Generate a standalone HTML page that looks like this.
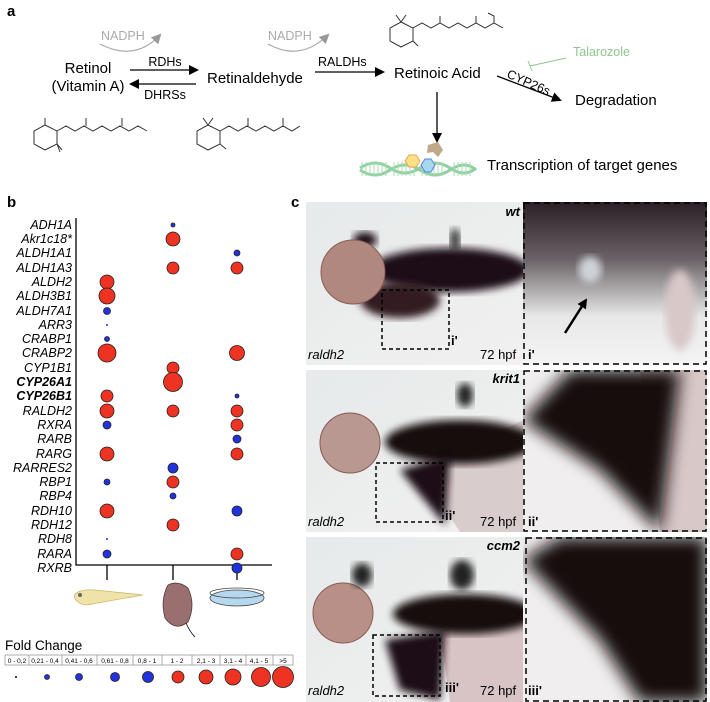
<!DOCTYPE html>
<html><head><meta charset="utf-8"><style>
html,body{margin:0;padding:0;background:#fff;}
svg{display:block;font-family:"Liberation Sans",sans-serif;}
.g{font-style:italic;font-size:12.5px;}
</style></head><body>
<svg width="710" height="702" viewBox="0 0 710 702" xmlns="http://www.w3.org/2000/svg">
<defs>
<marker id="ah" markerWidth="10" markerHeight="10" refX="8" refY="5" orient="auto" markerUnits="userSpaceOnUse"><path d="M0,0 L10,5 L0,10 z" fill="#000"/></marker>
<marker id="ahg" markerWidth="10" markerHeight="10" refX="8" refY="5" orient="auto" markerUnits="userSpaceOnUse"><path d="M0,0 L10,5 L0,10 z" fill="#999"/></marker>
<filter id="bl"><feGaussianBlur stdDeviation="4"/></filter>
<filter id="bl2"><feGaussianBlur stdDeviation="8"/></filter>
<linearGradient id="tg" x1="0" y1="0" x2="0" y2="1"><stop offset="0" stop-color="#2a2025"/><stop offset="0.35" stop-color="#6a6266"/><stop offset="0.7" stop-color="#e8e8e8"/><stop offset="1" stop-color="#f4f4f4"/></linearGradient>
<linearGradient id="bgc" x1="0" y1="0" x2="1" y2="1"><stop offset="0" stop-color="#e6eaea"/><stop offset="1" stop-color="#f2f0f0"/></linearGradient>
<clipPath id="c1"><rect x="306" y="202" width="217" height="163"/></clipPath>
<clipPath id="c2"><rect x="306" y="370" width="217" height="162"/></clipPath>
<clipPath id="c3"><rect x="306" y="537" width="217" height="165"/></clipPath>
<clipPath id="d1"><rect x="523" y="202" width="184" height="163"/></clipPath>
<clipPath id="d2"><rect x="523" y="370" width="184" height="162"/></clipPath>
<clipPath id="d3"><rect x="523" y="537" width="184" height="165"/></clipPath>
</defs>
<!-- panel a -->
<text x="7" y="16" font-weight="bold" font-size="15">a</text>
<text x="101" y="40" fill="#aaa" font-size="12.5">NADPH</text>
<path d="M100,44 Q135,62 160,35" fill="none" stroke="#aaa" stroke-width="1.2" marker-end="url(#ahg)"/>
<text x="268" y="40" fill="#aaa" font-size="12.5">NADPH</text>
<path d="M268,44 Q300,62 328,35" fill="none" stroke="#aaa" stroke-width="1.2" marker-end="url(#ahg)"/>
<text x="88" y="73" font-size="15" text-anchor="middle">Retinol</text>
<text x="88" y="91" font-size="15" text-anchor="middle">(Vitamin A)</text>
<text x="165" y="66" font-size="12.5" text-anchor="middle">RDHs</text>
<line x1="130" y1="70" x2="197" y2="70" stroke="#000" stroke-width="1.3" marker-end="url(#ah)"/>
<line x1="196" y1="84" x2="131" y2="84" stroke="#000" stroke-width="1.3" marker-end="url(#ah)"/>
<text x="165" y="99" font-size="12.5" text-anchor="middle">DHRSs</text>
<text x="207" y="83" font-size="15">Retinaldehyde</text>
<text x="318" y="66" font-size="12.5">RALDHs</text>
<line x1="315" y1="72" x2="383" y2="72" stroke="#000" stroke-width="1.3" marker-end="url(#ah)"/>
<text x="394" y="78" font-size="15">Retinoic Acid</text>
<text x="573" y="56" fill="#8fc58f" font-size="12.5">Talarozole</text>
<line x1="566" y1="58" x2="530" y2="66" stroke="#8fc58f" stroke-width="1"/>
<line x1="528" y1="61" x2="532" y2="71" stroke="#8fc58f" stroke-width="1"/>
<text x="506" y="77" font-size="12.5" transform="rotate(24 506 77)">CYP26s</text>
<line x1="497" y1="76" x2="560" y2="100" stroke="#000" stroke-width="1.3" marker-end="url(#ah)"/>
<text x="575" y="105" font-size="15">Degradation</text>
<line x1="437" y1="92" x2="437" y2="141" stroke="#000" stroke-width="1.3" marker-end="url(#ah)"/>
<text x="487" y="170" font-size="15">Transcription of target genes</text>
<g stroke="#8fd0a0" stroke-width="3" fill="none">
<path d="M360,168 Q375,158 390,168 T420,168 T450,168 T476,168"/>
<path d="M360,170 Q375,180 390,170 T420,170 T450,170 T476,170"/>
</g>
<g stroke="#a8dcb5" stroke-width="1"><path d="M362,162v14M366,162v14M370,162v14M374,162v14M378,162v14M382,162v14M386,162v14M394,162v14M398,162v14M402,162v14M406,162v14M410,162v14M414,162v14M422,162v14M426,162v14M430,162v14M434,162v14M438,162v14M442,162v14M454,162v14M458,162v14M462,162v14M466,162v14M470,162v14"/></g>
<polygon points="409,155 416,155 420,161 416,167 409,167 405,161" fill="#fbe08a" stroke="#f0a050"/>
<polygon points="425,159 431,159 435,165 431,172 425,172 421,165" fill="#a5d8ef" stroke="#5b7ee8"/>
<path d="M428,145 L438,142 L443,150 L438,157 L433,152 L427,153z" fill="#c0a888"/>
<g fill="none" stroke="#333" stroke-width="1">
<path d="M45,125 L57,131 L57,144 L45,150 L34,144 L34,131z M57,131 L66,126 L75,131 L84,126 L93,131 L102,126 L111,131 L120,126 L129,131 L138,126 L147,131 M86,126 L86,118 M122,126 L122,118 M45,125 L45,118 M57,144 L62,150 M57,144 L60,152"/>
<path d="M208,125 L220,131 L220,144 L208,150 L197,144 L197,131z M220,131 L229,126 L238,131 L247,126 L256,131 L265,126 L274,131 L283,126 L292,131 L300,126 M248,126 L248,118 M283,126 L283,118 M208,125 L203,118 M208,125 L213,118 M220,144 L226,149"/>
<path d="M401,22 L413,28 L413,41 L401,47 L390,41 L390,28z M413,28 L422,23 L431,28 L440,23 L449,28 L458,23 L467,28 L476,23 L485,28 L494,23 L503,28 M440,23 L440,16 M476,23 L476,16 M494,23 L494,16 L488,13 M401,22 L396,15 M401,22 L406,15 M413,41 L418,46"/>
</g>
<!-- panel b -->
<text x="7" y="207" font-weight="bold" font-size="15">b</text>
<g class="g" text-anchor="end">
<text x="72" y="229">ADH1A</text><text x="72" y="243">Akr1c18*</text><text x="72" y="257">ALDH1A1</text><text x="72" y="272">ALDH1A3</text>
<text x="72" y="286">ALDH2</text><text x="72" y="300">ALDH3B1</text><text x="72" y="315">ALDH7A1</text><text x="72" y="329">ARR3</text>
<text x="72" y="343">CRABP1</text><text x="72" y="357">CRABP2</text><text x="72" y="372">CYP1B1</text>
<text x="72" y="386" font-weight="bold">CYP26A1</text><text x="72" y="400" font-weight="bold">CYP26B1</text>
<text x="72" y="415">RALDH2</text><text x="72" y="429">RXRA</text><text x="72" y="443">RARB</text><text x="72" y="458">RARG</text>
<text x="72" y="472">RARRES2</text><text x="72" y="486">RBP1</text><text x="72" y="500">RBP4</text><text x="72" y="515">RDH10</text>
<text x="72" y="529">RDH12</text><text x="72" y="543">RDH8</text><text x="72" y="558">RARA</text><text x="72" y="572">RXRB</text>
</g>
<path d="M76,218 V565 H272 M107,565 V580 M173,565 V580 M237,565 V580" fill="none" stroke="#000" stroke-width="1.3"/>
<g stroke="#222" stroke-width="0.8">
<circle cx="173" cy="225" r="2" fill="#2233dd"/>
<circle cx="173" cy="239" r="7" fill="#ee3322"/>
<circle cx="237" cy="253" r="3" fill="#2233dd"/>
<circle cx="173" cy="268" r="6" fill="#ee3322"/><circle cx="237" cy="268" r="6" fill="#ee3322"/>
<circle cx="107" cy="282" r="7" fill="#ee3322"/>
<circle cx="107" cy="296" r="8" fill="#ee3322"/>
<circle cx="107" cy="311" r="3.5" fill="#2233dd"/>
<circle cx="107" cy="325" r="1" fill="#2233dd" stroke="none"/>
<circle cx="107" cy="339" r="2.5" fill="#2233dd"/>
<circle cx="107" cy="353" r="9" fill="#ee3322"/><circle cx="237" cy="353" r="7.5" fill="#ee3322"/>
<circle cx="173" cy="368" r="6" fill="#ee3322"/>
<circle cx="173" cy="382" r="9.5" fill="#ee3322"/>
<circle cx="107" cy="396" r="6" fill="#ee3322"/><circle cx="237" cy="396" r="2" fill="#2233dd"/>
<circle cx="107" cy="411" r="7" fill="#ee3322"/><circle cx="173" cy="411" r="6" fill="#ee3322"/><circle cx="237" cy="411" r="6" fill="#ee3322"/>
<circle cx="107" cy="425" r="4" fill="#2233dd"/><circle cx="237" cy="425" r="6" fill="#ee3322"/>
<circle cx="237" cy="439" r="4" fill="#2233dd"/>
<circle cx="107" cy="454" r="7" fill="#ee3322"/><circle cx="237" cy="454" r="6" fill="#ee3322"/>
<circle cx="173" cy="468" r="5" fill="#2233dd"/>
<circle cx="107" cy="482" r="3" fill="#2233dd"/><circle cx="173" cy="482" r="6" fill="#ee3322"/>
<circle cx="173" cy="496" r="3" fill="#2233dd"/>
<circle cx="107" cy="511" r="7" fill="#ee3322"/><circle cx="237" cy="511" r="5" fill="#2233dd"/>
<circle cx="173" cy="525" r="6" fill="#ee3322"/>
<circle cx="107" cy="539" r="1" fill="#2233dd" stroke="none"/>
<circle cx="107" cy="554" r="4" fill="#2233dd"/><circle cx="237" cy="554" r="6" fill="#ee3322"/>
<circle cx="237" cy="568" r="5" fill="#2233dd"/>
</g>
<path d="M78,592 Q72,595 76,600 Q82,607 92,604 L143,595 L95,590 Q85,589 78,592z" fill="#f0e3a8" stroke="#cbb870" stroke-width="0.8"/>
<circle cx="80" cy="595" r="2" fill="#666"/>
<path d="M168,585 Q160,600 165,618 Q175,632 188,622 Q196,605 188,588 Q178,580 168,585z" fill="#9a6f6f" stroke="#5a3a3a" stroke-width="0.8"/>
<path d="M186,623 Q190,632 195,637" fill="none" stroke="#000" stroke-width="0.8"/>
<ellipse cx="237" cy="598" rx="27" ry="8" fill="#b5d8ee" stroke="#444" stroke-width="0.8"/>
<ellipse cx="237" cy="593" rx="27" ry="5" fill="none" stroke="#444" stroke-width="0.8"/>
<text x="5" y="650" font-size="13.5">Fold Change</text>
<rect x="5" y="655" width="288" height="10" fill="#fff" stroke="#999" stroke-width="0.8"/>
<path d="M29,655v10M62,655v10M97,655v10M133,655v10M162,655v10M192,655v10M220,655v10M246,655v10M273,655v10" stroke="#999" stroke-width="0.8"/>
<g font-size="6.5" text-anchor="middle"><text x="17" y="663">0 - 0,2</text><text x="45" y="663">0,21 - 0,4</text><text x="79" y="663">0,41 - 0,6</text><text x="115" y="663">0,61 - 0,8</text><text x="147" y="663">0,8 - 1</text><text x="177" y="663">1 - 2</text><text x="206" y="663">2,1 - 3</text><text x="233" y="663">3,1 - 4</text><text x="259" y="663">4,1 - 5</text><text x="283" y="663">&gt;5</text></g>
<g stroke="#222" stroke-width="0.8">
<circle cx="16" cy="677" r="1" fill="#000" stroke="none"/>
<circle cx="47" cy="677" r="2.5" fill="#2233dd"/>
<circle cx="79" cy="677" r="3.5" fill="#2233dd"/>
<circle cx="115" cy="677" r="4.5" fill="#2233dd"/>
<circle cx="148" cy="677" r="5.5" fill="#2233dd"/>
<circle cx="178" cy="677" r="6" fill="#ee3322"/>
<circle cx="206" cy="677" r="7" fill="#ee3322"/>
<circle cx="233" cy="677" r="8" fill="#ee3322"/>
<circle cx="261" cy="677" r="9.5" fill="#ee3322"/>
<circle cx="283" cy="677" r="10.5" fill="#ee3322"/>
</g>
<!-- panel c -->
<text x="291" y="207" font-weight="bold" font-size="15">c</text>
<g clip-path="url(#c1)">
<rect x="306" y="202" width="217" height="163" fill="url(#bgc)"/>
<ellipse cx="450" cy="270" rx="80" ry="22" fill="#1a1015" filter="url(#bl)"/>
<ellipse cx="400" cy="300" rx="40" ry="18" fill="#301a22" filter="url(#bl)"/>
<ellipse cx="365" cy="240" rx="12" ry="8" fill="#1a1015" filter="url(#bl)"/>
<circle cx="353" cy="272" r="32" fill="#b08880" stroke="#8a5a55"/>
<ellipse cx="455" cy="240" rx="5" ry="12" fill="#333" filter="url(#bl)"/>
</g>
<rect x="382" y="290" width="67" height="59" fill="none" stroke="#000" stroke-width="1.5" stroke-dasharray="4,3"/>
<g clip-path="url(#d1)">
<rect x="523" y="202" width="184" height="163" fill="url(#tg)"/>
<ellipse cx="590" cy="270" rx="12" ry="14" fill="#cfd3d8" stroke="#444" filter="url(#bl)"/>
<ellipse cx="680" cy="310" rx="15" ry="40" fill="#d8c8c8" filter="url(#bl)"/>
</g>
<line x1="565" y1="333" x2="586" y2="300" stroke="#000" stroke-width="2.5" marker-end="url(#ah)"/>
<g clip-path="url(#c2)">
<rect x="306" y="370" width="217" height="162" fill="url(#bgc)"/>
<path d="M420,470 L523,420 L523,532 L460,532z" fill="#d8cccc"/>
<ellipse cx="460" cy="442" rx="75" ry="22" fill="#120a0e" filter="url(#bl)"/>
<path d="M400,470 L450,455 L445,525 Z" fill="#1a1015" filter="url(#bl)"/>
<circle cx="350" cy="443" r="30" fill="#b89890" stroke="#8a5a55"/>
<ellipse cx="465" cy="395" rx="8" ry="12" fill="#222" filter="url(#bl)"/>
</g>
<rect x="376" y="463" width="67" height="59" fill="none" stroke="#000" stroke-width="1.5" stroke-dasharray="4,3"/>
<g clip-path="url(#d2)">
<rect x="523" y="370" width="184" height="162" fill="#f0eeee"/>
<path d="M640,370 L707,370 L707,532 L660,532z" fill="#d8c8c8"/>
<path d="M523,420 L570,370 L680,370 L660,532 L600,470 Z" fill="#150c10" filter="url(#bl2)"/>
</g>
<g clip-path="url(#c3)">
<rect x="306" y="537" width="217" height="165" fill="url(#bgc)"/>
<path d="M440,630 L523,610 L523,702 L450,702z" fill="#d8c4c4"/>
<ellipse cx="465" cy="614" rx="72" ry="20" fill="#120a0e" filter="url(#bl)"/>
<path d="M385,640 L445,630 L440,700 L400,690 Z" fill="#1a1015" filter="url(#bl)"/>
<circle cx="343" cy="613" r="30" fill="#b89088" stroke="#8a5a55"/>
<ellipse cx="462" cy="575" rx="12" ry="15" fill="#222" filter="url(#bl)"/>
<ellipse cx="362" cy="575" rx="10" ry="12" fill="#222" filter="url(#bl)"/>
</g>
<rect x="373" y="635" width="67" height="61" fill="none" stroke="#000" stroke-width="1.5" stroke-dasharray="4,3"/>
<g clip-path="url(#d3)">
<rect x="523" y="537" width="184" height="165" fill="#f0eeee"/>
<path d="M523,560 L560,537 L707,537 L707,702 L640,702 L600,640 Z" fill="#150c10" filter="url(#bl2)"/>
</g>
<g fill="none" stroke="#000" stroke-width="1.5" stroke-dasharray="6,4">
<rect x="524" y="203" width="182" height="161"/>
<rect x="524" y="371" width="182" height="160"/>
<rect x="526" y="538" width="180" height="163"/>
</g>
<line x1="306" y1="367" x2="707" y2="367" stroke="#fff" stroke-width="4"/>
<line x1="306" y1="534" x2="707" y2="534" stroke="#fff" stroke-width="4"/>
<g font-size="13">
<text x="308" y="359" font-style="italic">raldh2</text><text x="480" y="359">72 hpf</text><text x="528" y="359" font-weight="bold">i'</text><text x="451" y="345" font-weight="bold">i'</text>
<text x="308" y="526" font-style="italic">raldh2</text><text x="480" y="526">72 hpf</text><text x="528" y="526" font-weight="bold">ii'</text><text x="445" y="520" font-weight="bold">ii'</text>
<text x="308" y="695" font-style="italic">raldh2</text><text x="480" y="695">72 hpf</text><text x="528" y="695" font-weight="bold">iii'</text><text x="445" y="692" font-weight="bold">iii'</text>
<text x="520" y="216" font-style="italic" font-weight="bold" text-anchor="end">wt</text>
<text x="520" y="383" font-style="italic" font-weight="bold" text-anchor="end">krit1</text>
<text x="520" y="550" font-style="italic" font-weight="bold" text-anchor="end">ccm2</text>
</g>
</svg>
</body></html>
